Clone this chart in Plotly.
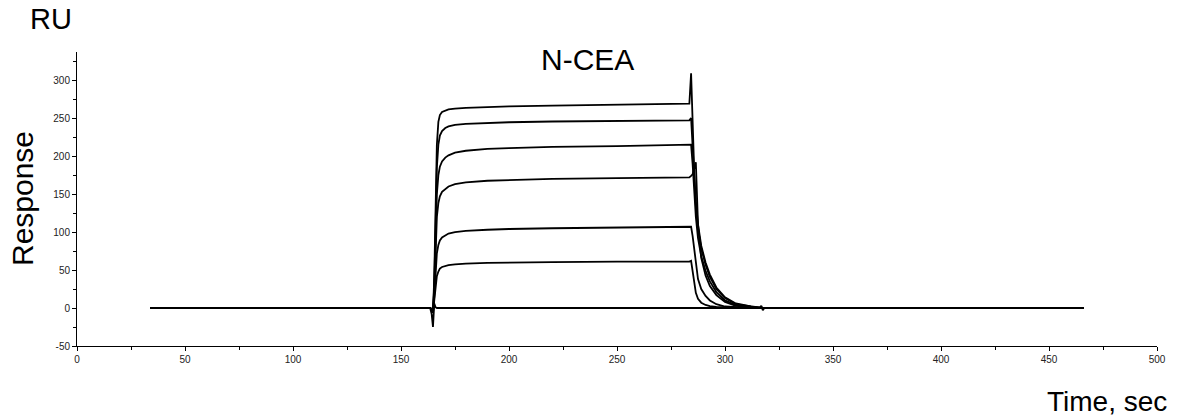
import plotly.graph_objects as go

time_s = [34, 100, 163.5, 164.2, 164.8, 165.4, 166, 166.6, 167.3, 168, 169, 170.5, 172,
          175, 180, 190, 200, 220, 250, 283.5, 284.3, 285, 285.8, 286.5, 287.5, 289,
          291, 293, 296, 300, 305, 312, 316, 316.8, 317.5, 318.2, 330, 400, 466]

# Response (RU) for each concentration, highest to lowest, plus buffer
resp_a = [0, 0, 0, -2, -6, 40, 150, 215, 245, 254, 258, 260, 261.5,
          262.5, 263.5, 264.5, 265.5, 266.5, 267.5, 269, 309, 230, 175, 140, 110, 82,
          60, 44, 27, 14, 6, 2, 0.5, 0, 0, 0, 0, 0, 0]
resp_b = [0, 0, 0, -2, -6, 30, 120, 185, 215, 227, 233, 237, 239,
          241, 242.5, 243.5, 244.5, 245.5, 246.5, 247, 250, 215, 170, 135, 105, 78,
          57, 41, 25, 13, 5, 1.5, 0.5, 0, 0, 0, 0, 0, 0]
resp_c = [0, 0, 0, -2, -6, 25, 100, 150, 175, 186, 193, 198, 201,
          204.5, 207, 209.5, 210.5, 212, 213, 214, 215, 190, 150, 120, 92, 68,
          49, 35, 21, 10, 4, 1, 0, 0, 0, 0, 0, 0, 0]
resp_d = [0, 0, 0, -2, -6, 20, 80, 120, 138, 147, 153, 157, 160,
          163, 165.5, 167.5, 168.5, 170, 171, 172, 174, 176, 184, 192, 110, 66,
          43, 29, 17, 8, 3, 1, 0, 0, 0, 0, 0, 0, 0]
resp_e = [0, 0, 0, -2, -6, 15, 50, 72, 83, 89, 93, 96, 98,
          100, 101.5, 103, 104, 105, 105.5, 106, 107, 95, 75, 55, 38, 25,
          16, 10, 5, 2, 1, 0, 0, 0, 0, 0, 0, 0, 0]
resp_f = [0, 0, 0, -2, -6, 10, 30, 42, 48, 52, 54, 55.5, 56.5,
          57.5, 58.5, 59.5, 60, 60.5, 61, 61, 62, 48, 32, 20, 12, 7,
          4, 2.5, 1.5, 0.5, 0, 0, 0, 0, 0, 0, 0, 0, 0]
resp_buffer = [0, 0, 0, -8, -25, 6, 1, 0, 0, 0, 0, 0, 0,
               0, 0, 0, 0, 0, 0, 0, 0, 0, 0, 0, 0, 0,
               0, 0, 0, 0, 0, 0, 0, 3, -3, 0, 0, 0, 0]

curves = [resp_a, resp_b, resp_c, resp_d, resp_e, resp_f, resp_buffer]

x_ticks = [0, 50, 100, 150, 200, 250, 300, 350, 400, 450, 500]
y_ticks = [-50, 0, 50, 100, 150, 200, 250, 300]

fig = go.Figure()
for c in curves:
    fig.add_trace(go.Scatter(x=time_s, y=c, mode="lines",
                             line=dict(color="black", width=1.8),
                             showlegend=False, hoverinfo="skip"))

tick_font = dict(family="Arial, Liberation Sans, sans-serif", size=10, color="#222")
big_font = dict(family="Arial, Liberation Sans, sans-serif", size=28, color="black")

fig.update_layout(
    width=1188, height=419,
    margin=dict(l=77, r=31, t=52, b=73),
    paper_bgcolor="white", plot_bgcolor="white",
    xaxis=dict(range=[0, 500], tickvals=x_ticks, ticktext=[str(v) for v in x_ticks],
               showline=True, linecolor="black", linewidth=1, showgrid=False, zeroline=False,
               ticks="outside", ticklen=4, tickcolor="black", tickfont=tick_font,
               minor=dict(dtick=25, tick0=0, ticks="outside", ticklen=3, tickcolor="black",
                          showgrid=False)),
    yaxis=dict(range=[-50, 337], tickvals=y_ticks, ticktext=[str(v) for v in y_ticks],
               showline=True, linecolor="black", linewidth=1, showgrid=False, zeroline=False,
               ticks="outside", ticklen=4, tickcolor="black", tickfont=tick_font,
               minor=dict(dtick=25, tick0=0, ticks="outside", ticklen=3, tickcolor="black",
                          showgrid=False)),
    annotations=[
        dict(text="RU", xref="paper", yref="paper", x=-0.024, y=1.112, showarrow=False,
             font=dict(family="Arial, Liberation Sans, sans-serif", size=29, color="black"),
             xanchor="center", yanchor="middle"),
        dict(text="Response", xref="paper", yref="paper", x=-0.051, y=0.503, showarrow=False,
             font=dict(family="Arial, Liberation Sans, sans-serif", size=30, color="black"),
             textangle=-90, xanchor="center", yanchor="middle"),
        dict(text="Time, sec", xref="paper", yref="paper", x=0.954, y=-0.19, showarrow=False,
             font=big_font, xanchor="center", yanchor="middle"),
        dict(text="N-CEA", xref="paper", yref="paper", x=0.473, y=0.973, showarrow=False,
             font=dict(family="Arial, Liberation Sans, sans-serif", size=30, color="black"),
             xanchor="center", yanchor="middle"),
    ],
)

fig.write_html("out.html")
